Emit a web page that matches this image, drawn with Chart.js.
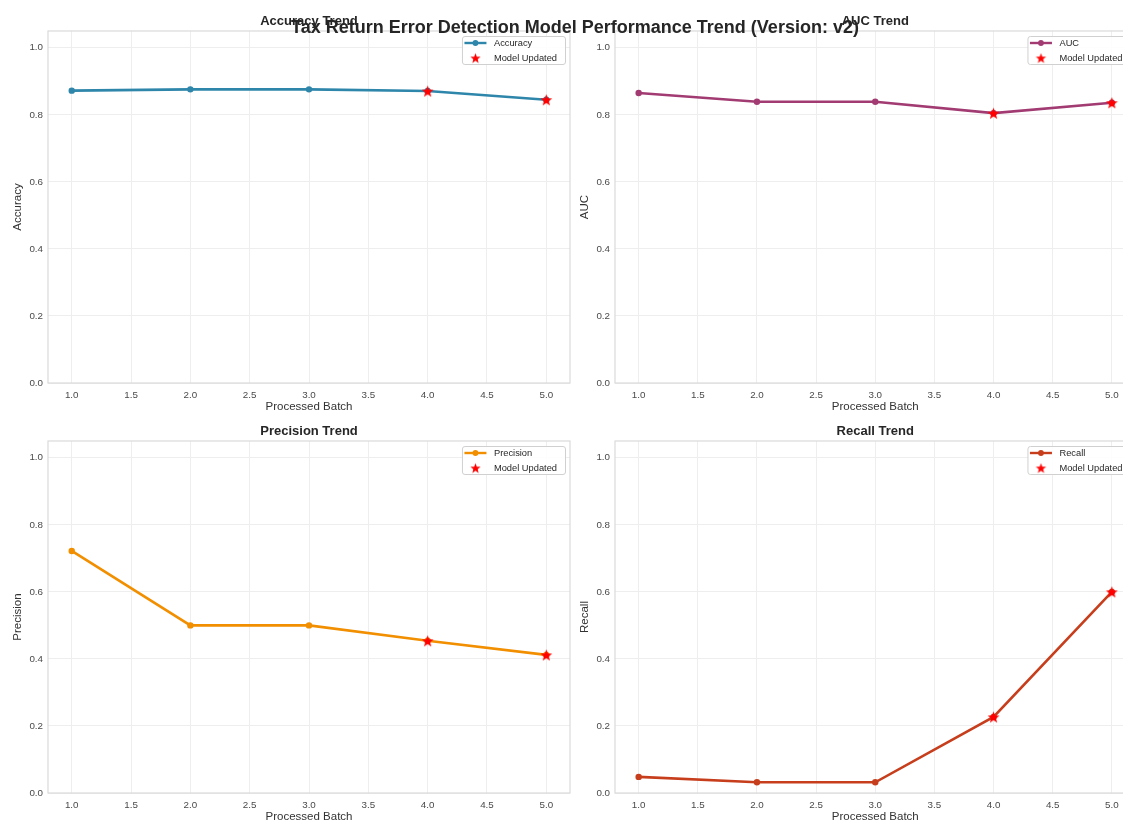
<!DOCTYPE html>
<html><head><meta charset="utf-8">
<script src="https://cdn.jsdelivr.net/npm/chart.js@4/dist/chart.umd.min.js"></script>
<style>
html,body{margin:0;padding:0;background:#fff;width:1123px;height:823px;overflow:hidden;}
body{position:relative;}
.pane{position:absolute;width:575px;height:415px;}
#sup{position:absolute;left:0;width:1150px;top:16px;line-height:22px;text-align:center;font-weight:bold;font-size:18px;font-family:"Liberation Sans",Arial,sans-serif;color:#262626;z-index:10;white-space:nowrap;}
</style></head><body>
<div class="pane" style="left:0;top:0"><canvas id="c0" width="575" height="415"></canvas></div>
<div class="pane" style="left:567px;top:0"><canvas id="c1" width="575" height="415"></canvas></div>
<div class="pane" style="left:0;top:410px"><canvas id="c2" width="575" height="415"></canvas></div>
<div class="pane" style="left:567px;top:410px"><canvas id="c3" width="575" height="415"></canvas></div>
<div id="sup"></div>
<script>
const supTitle = 'Tax Return Error Detection Model Performance Trend (Version: v2)';
const batches = [1, 2, 3, 4, 5];
const accuracy = [0.872, 0.876, 0.876, 0.871, 0.845];
const auc = [0.865, 0.839, 0.839, 0.805, 0.836];
const precision = [0.722, 0.500, 0.500, 0.454, 0.412];
const recall = [0.048, 0.032, 0.032, 0.227, 0.600];
const updateBatches = [4, 5];
const xTicks = [1.0, 1.5, 2.0, 2.5, 3.0, 3.5, 4.0, 4.5, 5.0];
const yTicks = [0.0, 0.2, 0.4, 0.6, 0.8, 1.0];
const panelTitles = ['Accuracy Trend', 'AUC Trend', 'Precision Trend', 'Recall Trend'];
const metricNames = ['Accuracy', 'AUC', 'Precision', 'Recall'];
const xLabel = 'Processed Batch';
const updateLabel = 'Model Updated';

document.getElementById('sup').textContent = supTitle;

const FONT = '"Liberation Sans", Arial, sans-serif';
Chart.defaults.font.family = FONT;
Chart.defaults.color = '#333333';

function makeStar(r, color) {
  const s = Math.ceil(r * 2 + 2);
  const c = document.createElement('canvas');
  c.width = s; c.height = s;
  const g = c.getContext('2d');
  g.translate(s / 2, s / 2 + r * 0.1);
  g.beginPath();
  for (let i = 0; i < 10; i++) {
    const rad = i % 2 === 0 ? r : r * 0.42;
    const a = -Math.PI / 2 + i * Math.PI / 5;
    g.lineTo(rad * Math.cos(a), rad * Math.sin(a));
  }
  g.closePath();
  g.fillStyle = color;
  g.fill();
  return c;
}
const starImg = makeStar(6.2, '#ff0000');
const starLegend = makeStar(5.4, '#ff0000');

const frameLegend = {
  id: 'frameLegend',
  afterDraw(chart, args, opts) {
    const {ctx, chartArea: a} = chart;
    ctx.save();
    ctx.strokeStyle = '#dadada';
    ctx.lineWidth = 1.2;
    ctx.strokeRect(a.left, a.top, a.right - a.left, a.bottom - a.top);
    ctx.font = '9.3px ' + FONT;
    const tw = Math.max(ctx.measureText(opts.name).width, ctx.measureText(updateLabel).width);
    const w = 32 + tw + 8;
    const h = 28;
    const x = a.right - 5 - w;
    const y = a.top + 5;
    ctx.beginPath();
    if (ctx.roundRect) ctx.roundRect(x + 0.5, y + 0.5, w, h, 2.5); else ctx.rect(x + 0.5, y + 0.5, w, h);
    ctx.fillStyle = 'rgba(255,255,255,0.85)';
    ctx.fill();
    ctx.strokeStyle = '#d0d0d0';
    ctx.lineWidth = 1;
    ctx.stroke();
    const r1 = y + 7, r2 = y + 22;
    ctx.strokeStyle = opts.color;
    ctx.lineWidth = 2.4;
    ctx.beginPath();
    ctx.moveTo(x + 2.5, r1); ctx.lineTo(x + 24.5, r1);
    ctx.stroke();
    ctx.fillStyle = opts.color;
    ctx.beginPath();
    ctx.arc(x + 13.5, r1, 2.9, 0, Math.PI * 2);
    ctx.fill();
    ctx.drawImage(starLegend, x + 13.5 - starLegend.width / 2, r2 - starLegend.height / 2);
    ctx.fillStyle = '#262626';
    ctx.textBaseline = 'middle';
    ctx.textAlign = 'left';
    ctx.fillText(opts.name, x + 32, r1 + 0.5);
    ctx.fillText(updateLabel, x + 32, r2 + 0.5);
    ctx.restore();
  }
};

const panels = [
  {id: 'c0', values: accuracy, color: '#2E86AB', padRight: 5},
  {id: 'c1', values: auc, color: '#A23B72', padRight: 6.5},
  {id: 'c2', values: precision, color: '#F18F01', padRight: 5},
  {id: 'c3', values: recall, color: '#C73E1D', padRight: 6.5}
];

panels.forEach((p, i) => {
  const lineData = batches.map((b, k) => ({x: b, y: p.values[k]}));
  const starData = updateBatches.map(b => ({x: b, y: p.values[batches.indexOf(b)]}));
  new Chart(document.getElementById(p.id), {
    type: 'line',
    data: {
      datasets: [
        {
          label: metricNames[i],
          data: lineData,
          borderColor: p.color,
          backgroundColor: p.color,
          borderWidth: 2.6,
          pointRadius: 3.2,
          pointBorderWidth: 0,
          pointBackgroundColor: p.color,
          tension: 0,
          fill: false,
          order: 2
        },
        {
          label: updateLabel,
          data: starData,
          showLine: false,
          pointStyle: starImg,
          pointRadius: 7,
          order: 1
        }
      ]
    },
    options: {
      responsive: false,
      animation: false,
      devicePixelRatio: 1,
      layout: {autoPadding: false, padding: {left: 0, right: p.padRight, top: 0, bottom: 0}},
      plugins: {
        legend: {display: false},
        tooltip: {enabled: false},
        title: {
          display: true,
          text: panelTitles[i],
          fullSize: false,
          color: '#262626',
          font: {size: 13, weight: 'bold', lineHeight: 1.2},
          padding: {top: 13.2, bottom: 2.2}
        },
        frameLegend: {name: metricNames[i], color: p.color}
      },
      scales: {
        x: {
          type: 'linear',
          min: 0.8,
          max: 5.2,
          afterBuildTicks: (scale) => { scale.ticks = xTicks.map(v => ({value: v})); },
          afterFit: (scale) => { scale.height = 32; scale.paddingLeft = 0; scale.paddingRight = 0; },
          grid: {color: '#eeeeee', lineWidth: 1, drawTicks: false},
          border: {display: false},
          ticks: {
            padding: 6,
            color: '#4a4a4a',
            font: {size: 9.8},
            maxRotation: 0,
            autoSkip: false,
            callback: (v) => Number(v).toFixed(1)
          },
          title: {
            display: true,
            text: xLabel,
            color: '#333333',
            font: {size: 11.5, lineHeight: 1.2},
            padding: {top: 0, bottom: 1.2}
          }
        },
        y: {
          type: 'linear',
          min: 0,
          max: 1.05,
          afterBuildTicks: (scale) => { scale.ticks = yTicks.map(v => ({value: v})); },
          afterFit: (scale) => { scale.width = 48; scale.paddingTop = 0; scale.paddingBottom = 0; },
          grid: {color: '#eeeeee', lineWidth: 1, drawTicks: false},
          border: {display: false},
          ticks: {
            padding: 5,
            color: '#4a4a4a',
            font: {size: 9.8},
            callback: (v) => Number(v).toFixed(1)
          },
          title: {
            display: true,
            text: metricNames[i],
            color: '#333333',
            font: {size: 11.5, lineHeight: 1.2},
            padding: {top: 10.5, bottom: 0}
          }
        }
      }
    },
    plugins: [frameLegend]
  });
});
</script>
</body></html>
